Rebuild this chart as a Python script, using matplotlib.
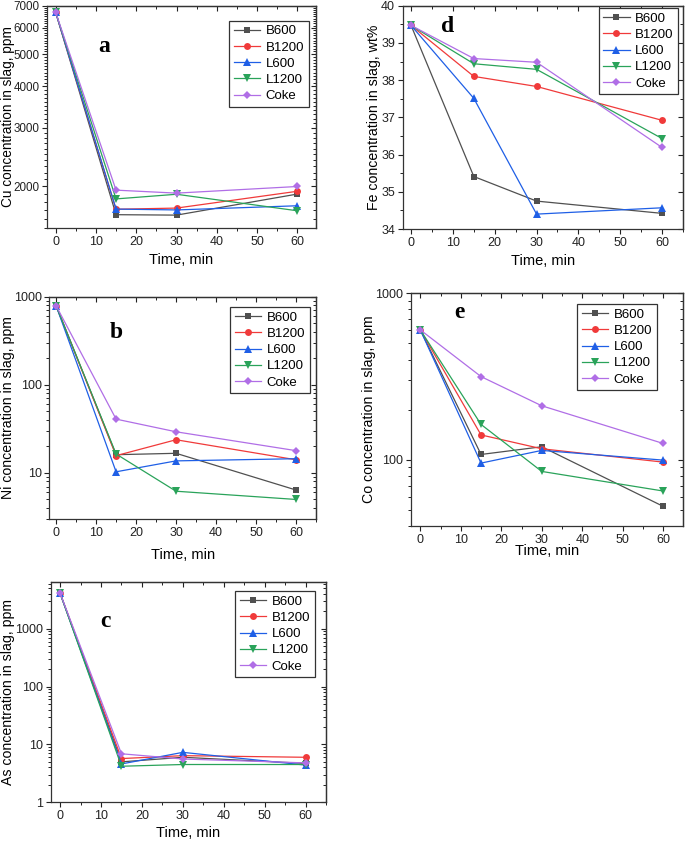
import matplotlib
matplotlib.use('Agg')
import matplotlib.pyplot as plt
from matplotlib.ticker import FixedLocator, MultipleLocator, NullFormatter

plt.rcParams['font.family'] = ['Liberation Sans', 'DejaVu Sans']

# data
time = [0, 15, 30, 60]
labels = ['B600', 'B1200', 'L600', 'L1200', 'Coke']

cu_b600 = [6700, 1645, 1640, 1898]
cu_b1200 = [6700, 1708, 1722, 1935]
cu_l600 = [6700, 1710, 1700, 1750]
cu_l1200 = [6700, 1835, 1895, 1690]
cu_coke = [6700, 1950, 1910, 2000]

fe_b600 = [39.47, 35.41, 34.75, 34.42]
fe_b1200 = [39.47, 38.10, 37.83, 36.92]
fe_l600 = [39.47, 37.51, 34.40, 34.57]
fe_l1200 = [39.47, 38.44, 38.29, 36.43]
fe_coke = [39.47, 38.58, 38.48, 36.19]

ni_b600 = [790, 16.1, 16.7, 6.4]
ni_b1200 = [790, 15.7, 23.8, 14.1]
ni_l600 = [790, 10.3, 13.7, 14.5]
ni_l1200 = [790, 16.4, 6.2, 5.0]
ni_coke = [790, 40.8, 29.3, 17.9]

co_b600 = [603, 107.6, 119.7, 52.5]
co_b1200 = [603, 141, 116.4, 96.8]
co_l600 = [603, 95.5, 113.8, 99.5]
co_l1200 = [603, 163, 85.1, 64.9]
co_coke = [603, 316, 211, 125.3]

as_b600 = [4100, 5.0, 6.0, 4.7]
as_b1200 = [4100, 5.7, 6.4, 6.0]
as_l600 = [4100, 4.6, 7.3, 4.4]
as_l1200 = [4100, 4.2, 4.5, 4.5]
as_coke = [4100, 6.9, 5.6, 4.8]

colors = ['#505050', '#f03a3a', '#1f5fe6', '#2aa35a', '#b06ee6']
markers = ['s', 'o', '^', 'v', 'D']
msizes = [4.5, 5, 5.5, 5.5, 4.5]

W, H = 685, 842


def box(left, top, right, bottom):
    # pixel box -> figure fraction
    return [left / W, 1 - bottom / H, (right - left) / W, (bottom - top) / H]


def draw_panel(fig, rect, data, xlim, ylim, ylabel, ylabel_x, letter, letter_xy,
               leg_corner, log=True, yticks=None, yminor=None, xlabelpad=4,
               ytick_size=9, ytick_pad=2, ylabel_size=10.2):
    ax = fig.add_axes(box(*rect))
    for vals, lab, c, m, ms in zip(data, labels, colors, markers, msizes):
        ax.plot(time, vals, color=c, marker=m, markersize=ms, lw=0.9,
                label=lab, markeredgewidth=0)
    if log:
        ax.set_yscale('log')
    ax.set_xlim(*xlim)
    ax.set_ylim(*ylim)
    ax.set_xticks([0, 10, 20, 30, 40, 50, 60])
    ax.xaxis.set_minor_locator(MultipleLocator(5))
    if yticks is not None:
        ax.yaxis.set_major_locator(FixedLocator(yticks))
        ax.set_yticklabels([str(t) for t in yticks])
    if yminor is not None:
        ax.yaxis.set_minor_locator(FixedLocator(yminor))
    ax.yaxis.set_minor_formatter(NullFormatter())
    ax.tick_params(which='major', direction='out', length=3.5, width=0.8,
                   labelsize=9, colors='#222222', pad=2)
    ax.tick_params(axis='y', which='major', labelsize=ytick_size, pad=ytick_pad)
    ax.tick_params(which='minor', direction='out', length=2, width=0.7,
                   colors='#222222')
    for sp in ax.spines.values():
        sp.set_color('#333333')
        sp.set_linewidth(0.9)

    # inward ticks on the top and right frame
    top = ax.secondary_xaxis('top')
    top.set_xticks([0, 10, 20, 30, 40, 50, 60])
    top.xaxis.set_minor_locator(MultipleLocator(5))
    top.tick_params(which='both', direction='in', labeltop=False, colors='#222222')
    top.tick_params(which='major', length=3.5, width=0.8)
    top.tick_params(which='minor', length=2, width=0.7)
    right = ax.secondary_yaxis('right')
    if yticks is not None:
        right.yaxis.set_major_locator(FixedLocator(yticks))
    if yminor is not None:
        right.yaxis.set_minor_locator(FixedLocator(yminor))
    right.yaxis.set_minor_formatter(NullFormatter())
    right.tick_params(which='both', direction='in', labelright=False, colors='#222222')
    right.tick_params(which='major', length=3.5, width=0.8)
    right.tick_params(which='minor', length=2, width=0.7)
    for s in (top, right):
        for sp in s.spines.values():
            sp.set_color('#333333')
            sp.set_linewidth(0.9)

    ax.set_xlabel('Time, min', fontsize=10.5, labelpad=xlabelpad)
    ax.set_ylabel(ylabel, fontsize=ylabel_size, va='center')
    left, _, rgt, _ = rect
    ax.yaxis.set_label_coords((ylabel_x - left) / (rgt - left), 0.5)

    fig.text(letter_xy[0] / W, 1 - letter_xy[1] / H, letter,
             family=['Liberation Serif', 'DejaVu Serif'], fontweight='bold',
             fontsize=17, ha='center', va='center')

    leg = ax.legend(loc='upper right',
                    bbox_to_anchor=(leg_corner[0] / W, 1 - leg_corner[1] / H),
                    bbox_transform=fig.transFigure, borderaxespad=0,
                    fontsize=9.5, fancybox=False, handlelength=2.0,
                    handletextpad=0.4, labelspacing=0.3, borderpad=0.35,
                    framealpha=1)
    leg.get_frame().set_edgecolor('#333333')
    leg.get_frame().set_linewidth(0.9)
    return ax


fig = plt.figure(figsize=(W / 100, H / 100), dpi=100)

draw_panel(fig, (46.7, 5.7, 316, 228),
           [cu_b600, cu_b1200, cu_l600, cu_l1200, cu_coke],
           (-2.2, 64.6), (1500, 7000), 'Cu concentration in slag, ppm', 7.6,
           'a', (104.5, 46), (308.5, 20.5),
           yticks=[2000, 3000, 4000, 5000, 6000, 7000],
           yminor=list(range(1500, 7001, 100)),
           ytick_size=8.4, ytick_pad=1.5, ylabel_size=9.8)

draw_panel(fig, (402.7, 5.7, 683, 229),
           [fe_b600, fe_b1200, fe_l600, fe_l1200, fe_coke],
           (-2.0, 65.0), (34, 40), 'Fe concentration in slag, wt%', 374,
           'd', (448, 27), (678, 8), log=False,
           yticks=[34, 35, 36, 37, 38, 39, 40],
           yminor=[34.5, 35.5, 36.5, 37.5, 38.5, 39.5])

draw_panel(fig, (49.3, 296.7, 316, 519),
           [ni_b600, ni_b1200, ni_l600, ni_l1200, ni_coke],
           (-1.7, 65.0), (3, 1000), 'Ni concentration in slag, ppm', 8.5,
           'b', (116, 333), (309.5, 307),
           yticks=[10, 100, 1000],
           yminor=[3, 4, 5, 6, 7, 8, 9, 20, 30, 40, 50, 60, 70, 80, 90,
                   200, 300, 400, 500, 600, 700, 800, 900], xlabelpad=7)

draw_panel(fig, (411, 293.3, 683, 526),
           [co_b600, co_b1200, co_l600, co_l1200, co_coke],
           (-2.3, 64.9), (40, 1000), 'Co concentration in slag, ppm', 369,
           'e', (459, 313), (656.5, 304),
           yticks=[100, 1000],
           yminor=[40, 50, 60, 70, 80, 90, 200, 300, 400, 500, 600, 700,
                   800, 900], xlabelpad=-1)

draw_panel(fig, (50.7, 581.7, 326, 802.3),
           [as_b600, as_b1200, as_l600, as_l1200, as_coke],
           (-2.3, 65.0), (1, 6500), 'As concentration in slag, ppm', 8.5,
           'c', (105.7, 621.5), (314.5, 591),
           yticks=[1, 10, 100, 1000],
           yminor=[2, 3, 4, 5, 6, 7, 8, 9, 20, 30, 40, 50, 60, 70, 80, 90,
                   200, 300, 400, 500, 600, 700, 800, 900, 2000, 3000,
                   4000, 5000, 6000], xlabelpad=3)

fig.savefig('out.png', dpi=100)
